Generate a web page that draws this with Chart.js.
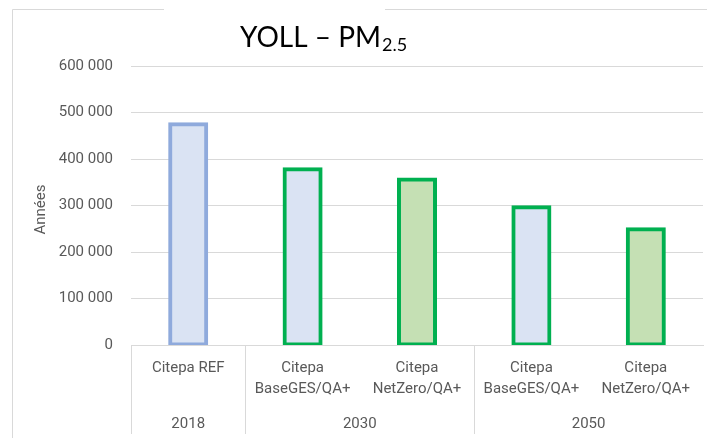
<!DOCTYPE html>
<html lang="fr">
<head>
<meta charset="utf-8">
<title>YOLL – PM2.5</title>
<script src="https://cdn.jsdelivr.net/npm/chart.js@4.4.1/dist/chart.umd.min.js"></script>
<style>
  html, body { margin: 0; padding: 0; background: #fff; }
  #wrap { width: 707px; height: 438px; }
</style>
</head>
<body>
<div id="wrap"><canvas id="yollChart" width="707" height="438"></canvas></div>
<script>
// scenario labels (one entry per bar, split in lines)
const scenarios = [
    ['Citepa REF'],
    ['Citepa', 'BaseGES/QA+'],
    ['Citepa', 'NetZero/QA+'],
    ['Citepa', 'BaseGES/QA+'],
    ['Citepa', 'NetZero/QA+']
];
// second axis level: years and how many bars each one covers
const years = ['2018', '2030', '2050'];
const yearSpans = [1, 2, 2];
// years of life lost
const yollValues = [475000, 378000, 356000, 296000, 249000];
const yMax = 600000;
const yStep = 100000;

const GRID = '#d9d9d9';
const TEXT = '#595959';
const FONT = 'Roboto, "Liberation Sans", sans-serif';

const fills = ['#dae3f3', '#dae3f3', '#c5e0b4', '#dae3f3', '#c5e0b4'];
const borders = ['#8faadc', '#00b050', '#00b050', '#00b050', '#00b050'];

function fmt(v) {
    return String(v).replace(/\B(?=(\d{3})+(?!\d))/g, ' ');
}

// frame, title, y title and the year level of the axis
const decor = {
    id: 'decor',
    beforeDraw(chart) {
        const ctx = chart.ctx;
        ctx.save();
        ctx.fillStyle = '#fff';
        ctx.fillRect(0, 0, chart.width, chart.height);
        ctx.strokeStyle = GRID;
        ctx.lineWidth = 1;
        ctx.beginPath();
        ctx.moveTo(12.5, chart.height);
        ctx.lineTo(12.5, 9.5);
        ctx.lineTo(164, 9.5);
        ctx.moveTo(385, 9.5);
        ctx.lineTo(chart.width, 9.5);
        ctx.stroke();
        ctx.restore();
    },
    afterDraw(chart) {
        const ctx = chart.ctx;
        const area = chart.chartArea;
        const x = chart.scales.x;
        ctx.save();

        // title with subscript
        ctx.fillStyle = '#000';
        ctx.textBaseline = 'alphabetic';
        ctx.textAlign = 'left';
        ctx.font = '28px Lato, "Open Sans", sans-serif';
        const main = 'YOLL – PM';
        ctx.fillText(main, 240, 47);
        const w = ctx.measureText(main).width;
        ctx.font = '18px Lato, "Open Sans", sans-serif';
        ctx.fillText('2.5', 240 + w + 1, 51);

        // y axis title
        ctx.fillStyle = TEXT;
        ctx.font = '15px ' + FONT;
        ctx.textAlign = 'center';
        ctx.textBaseline = 'middle';
        ctx.save();
        ctx.translate(41, (area.top + area.bottom) / 2 + 4);
        ctx.rotate(-Math.PI / 2);
        ctx.fillText('Années', 0, 0);
        ctx.restore();

        // year groups
        const catW = (x.right - x.left) / scenarios.length;
        ctx.strokeStyle = GRID;
        ctx.lineWidth = 1;
        let start = 0;
        years.forEach((yr, i) => {
            const left = x.left + start * catW;
            const right = left + yearSpans[i] * catW;
            const lx = Math.round(left) + 0.5;
            ctx.beginPath();
            ctx.moveTo(lx, area.bottom);
            ctx.lineTo(lx, 434);
            ctx.stroke();
            ctx.fillText(yr, (left + right) / 2, 424);
            start += yearSpans[i];
        });
        ctx.restore();
    }
};

const ctx = document.getElementById('yollChart').getContext('2d');
new Chart(ctx, {
    type: 'bar',
    data: {
        labels: scenarios,
        datasets: [{
            data: yollValues,
            backgroundColor: fills,
            borderColor: borders,
            borderWidth: 4,
            borderSkipped: false,
            inflateAmount: 2,
            barPercentage: 0.315,
            categoryPercentage: 1
        }]
    },
    options: {
        responsive: false,
        animation: false,
        layout: { padding: { top: 66, right: 4, bottom: 0, left: 0 } },
        plugins: {
            legend: { display: false },
            tooltip: { enabled: false }
        },
        scales: {
            x: {
                grid: { display: false, drawTicks: false },
                border: { display: true, color: GRID, width: 1 },
                ticks: {
                    color: TEXT,
                    padding: 13,
                    maxRotation: 0,
                    autoSkip: false,
                    font: { family: FONT, size: 15, lineHeight: 1.4 }
                },
                afterFit(scale) { scale.height = 93; }
            },
            y: {
                min: 0,
                max: yMax,
                grid: { color: GRID, drawTicks: false },
                border: { display: false },
                ticks: {
                    stepSize: yStep,
                    color: TEXT,
                    padding: 18,
                    font: { family: FONT, size: 15 },
                    callback: v => fmt(v)
                },
                afterFit(scale) { scale.width = 131; }
            }
        }
    },
    plugins: [decor]
});
</script>
</body>
</html>
